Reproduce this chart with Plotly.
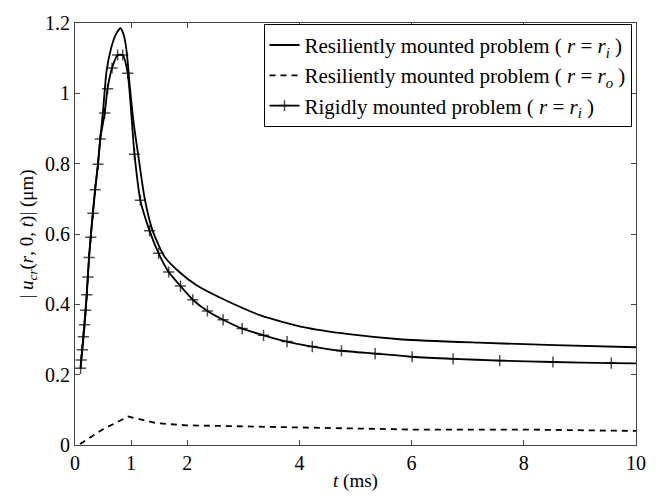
import plotly.graph_objects as go

# Resiliently mounted problem (r = r_i)
t_res_i = [0.10, 0.15, 0.20, 0.25, 0.30, 0.36, 0.41, 0.45, 0.50, 0.56, 0.64, 0.72, 0.81,
           0.87, 0.92, 0.98, 1.05, 1.12, 1.24, 1.38, 1.59, 1.86, 2.16, 2.60, 3.32, 4.07,
           4.88, 5.84, 7.19, 8.55, 10.0]
u_res_i = [0.218, 0.31, 0.41, 0.533, 0.63, 0.73, 0.80, 0.87, 0.95, 1.06, 1.126, 1.165, 1.185,
           1.165, 1.12, 1.015, 0.91, 0.832, 0.703, 0.611, 0.537, 0.492, 0.455, 0.418, 0.368, 0.335,
           0.315, 0.300, 0.291, 0.284, 0.278]

# Resiliently mounted problem (r = r_o)
t_res_o = [0.09, 0.50, 0.95, 1.45, 1.98, 3.98, 5.98, 8.0, 10.0]
u_res_o = [0.003, 0.045, 0.081, 0.062, 0.056, 0.049, 0.044, 0.044, 0.040]

# Rigidly mounted problem (r = r_i)
t_rig = [0.10, 0.11, 0.13, 0.15, 0.17, 0.19, 0.21, 0.23, 0.25, 0.28, 0.32, 0.36, 0.41, 0.45,
         0.53, 0.58, 0.66, 0.76, 0.85, 0.94, 1.06, 1.165, 1.33, 1.49, 1.67, 1.88, 2.10, 2.36,
         2.64, 2.98, 3.36, 3.78, 4.23, 4.75, 5.35, 6.01, 6.74, 7.57, 8.52, 9.56, 10.0]
u_rig = [0.218, 0.242, 0.271, 0.308, 0.342, 0.383, 0.427, 0.478, 0.533, 0.591, 0.659, 0.726,
         0.798, 0.870, 0.944, 1.013, 1.072, 1.109, 1.109, 1.057, 0.827, 0.696, 0.609, 0.545,
         0.492, 0.452, 0.413, 0.381, 0.356, 0.331, 0.312, 0.294, 0.280, 0.268, 0.260, 0.251,
         0.245, 0.240, 0.236, 0.233, 0.232]

x_ticks = [0, 1, 2, 4, 6, 8, 10]
y_ticks = [0, 0.2, 0.4, 0.6, 0.8, 1.0, 1.2]
y_tick_labels = ["0", "0.2", "0.4", "0.6", "0.8", "1", "1.2"]

names = [
    "Resiliently mounted problem ( <i>r</i> = <i>r</i><sub><i>i</i></sub> )",
    "Resiliently mounted problem ( <i>r</i> = <i>r</i><sub><i>o</i></sub> )",
    "Rigidly mounted problem ( <i>r</i> = <i>r</i><sub><i>i</i></sub> )",
]

FONT = "Liberation Serif, Times New Roman, serif"

fig = go.Figure()
fig.add_trace(go.Scatter(x=t_res_i, y=u_res_i, mode="lines", name=names[0],
                         line=dict(color="black", width=1.8, shape="spline", smoothing=0.6)))
fig.add_trace(go.Scatter(x=t_res_o, y=u_res_o, mode="lines", name=names[1],
                         line=dict(color="black", width=1.8, dash="6px,5px")))
sizes = [8] * (len(t_rig) - 1) + [0]
fig.add_trace(go.Scatter(x=t_rig, y=u_rig, mode="lines+markers", name=names[2],
                         line=dict(color="black", width=1.8, shape="spline", smoothing=0.6),
                         marker=dict(symbol="cross-thin-open", size=sizes, color="black",
                                     line=dict(color="black", width=1.5))))

axis_common = dict(showline=True, linecolor="#444", linewidth=1, mirror="ticks",
                   ticks="inside", ticklen=5, tickcolor="#444", showgrid=False,
                   zeroline=False, tickfont=dict(family=FONT, size=20, color="black"))

fig.update_xaxes(range=[0, 10], tickvals=x_ticks, ticktext=[str(v) for v in x_ticks],
                 title=dict(text="<i>t</i> (ms)", font=dict(family=FONT, size=19, color="black"),
                            standoff=0),
                 **axis_common)
fig.update_yaxes(range=[0, 1.2], tickvals=y_ticks, ticktext=y_tick_labels,
                 title=dict(text="| <i>u</i><sub><i>cr</i></sub>(<i>r</i>, 0, <i>t</i>)| (μm)",
                            font=dict(family=FONT, size=19, color="black"), standoff=6),
                 **axis_common)

fig.update_layout(
    width=658, height=499,
    margin=dict(l=75, r=20, t=16, b=47),
    paper_bgcolor="white", plot_bgcolor="white",
    font=dict(family=FONT, size=19, color="black"),
    legend=dict(x=0.992, y=0.998, xanchor="right", yanchor="top",
                bgcolor="white", bordercolor="black", borderwidth=1,
                font=dict(family=FONT, size=21, color="black"),
                tracegroupgap=0, itemwidth=30),
    showlegend=True,
)

fig.write_html("out.html")
